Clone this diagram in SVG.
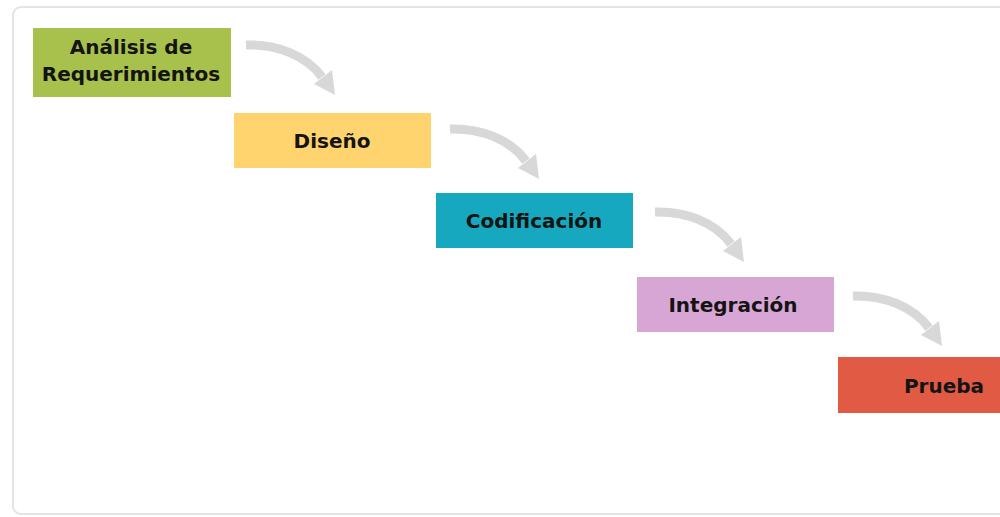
<svg xmlns="http://www.w3.org/2000/svg" width="1000" height="517" viewBox="0 0 1000 517">
  <defs>
    <style>
      .lbl { font-family: "DejaVu Sans", Verdana, sans-serif; font-weight: bold; font-size: 20px; fill: #141414; text-anchor: middle; }
      .shaft { fill: none; stroke: #d8d8d8; stroke-width: 9; }
      .head { fill: #d8d8d8; }
    </style>
    <g id="curved-arrow">
      <path class="shaft" d="M0,0 C30,-1 60,10 76,32"/>
      <polygon class="head" points="68,39 86,25 89,50"/>
    </g>
  </defs>

  <rect width="1000" height="517" fill="#ffffff"/>
  <!-- outer frame -->
  <rect x="13" y="7" width="1010" height="507" rx="8" fill="#ffffff" stroke="#e4e4e4" stroke-width="2"/>

  <g id="connectors">
    <use href="#curved-arrow" x="246" y="45"/>
    <use href="#curved-arrow" x="450" y="129"/>
    <use href="#curved-arrow" x="655" y="212"/>
    <use href="#curved-arrow" x="853" y="296"/>
  </g>

  <g id="analisis">
    <rect x="33" y="28" width="198" height="69" fill="#a8c04c"/>
    <text class="lbl" x="131" y="54">Análisis de</text>
    <text class="lbl" x="131" y="81">Requerimientos</text>
  </g>

  <g id="diseno">
    <rect x="234" y="113" width="197" height="55" fill="#ffd36e"/>
    <text class="lbl" x="332" y="148">Diseño</text>
  </g>

  <g id="codificacion">
    <rect x="436" y="193" width="197" height="55" fill="#16a8bf"/>
    <text class="lbl" x="534" y="228">Codificación</text>
  </g>

  <g id="integracion">
    <rect x="637" y="277" width="197" height="55" fill="#d8a6d5"/>
    <text class="lbl" x="733" y="312">Integración</text>
  </g>

  <g id="prueba">
    <rect x="838" y="357" width="200" height="56" fill="#e05a44"/>
    <text class="lbl" x="944" y="393">Prueba</text>
  </g>
</svg>
